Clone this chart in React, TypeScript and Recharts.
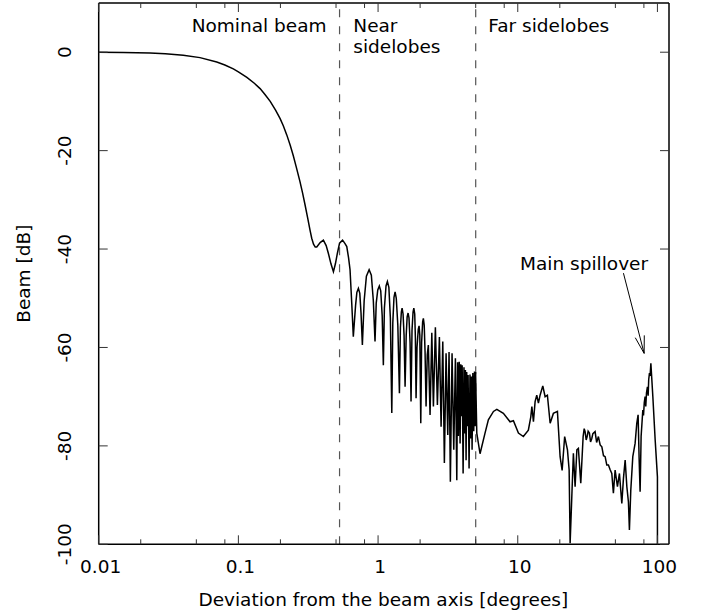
import React from 'react';
import { LineChart, Line, XAxis, YAxis, ReferenceLine } from 'recharts';

const FONT = "'DejaVu Sans', Verdana, sans-serif";
const FS = 18.5;

// Axis ticks
const xMajorTicks = [0.01, 0.1, 1, 10, 100];
const xTickLabels = ['0.01', '0.1', '1', '10', '100'];
const xMinorTicks = [0.02, 0.05, 0.08, 0.2, 0.5, 0.8, 2, 5, 8, 20, 50, 80];
const yTicks = [-100, -80, -60, -40, -20, 0];
const yTickLabels = ['-100', '-80', '-60', '-40', '-20', '0'];

// Region boundaries (degrees)
const regionBoundaries = [0.53, 5];

// Beam profile: [deviation in degrees, beam in dB]
const mainBeam: [number, number][] = [
  [0.01, 0], [0.015, -0.05], [0.0233, -0.15], [0.03, -0.3], [0.0403, -0.6], [0.0531, -1.1],
  [0.07, -2.0], [0.08, -2.6], [0.092, -3.4], [0.1, -4.0], [0.115, -5.1], [0.13, -6.3],
  [0.143, -7.4], [0.155, -8.6], [0.169, -10.0], [0.185, -11.8], [0.199, -13.5], [0.21, -15.0],
  [0.222, -16.8], [0.235, -18.9], [0.247, -21.0], [0.26, -23.4], [0.276, -26.3], [0.288, -28.6],
  [0.3, -31.0], [0.313, -33.6], [0.326, -36.2], [0.335, -37.8], [0.345, -39.0], [0.355, -39.6],
  [0.364, -39.6], [0.385, -38.7], [0.406, -38.2], [0.425, -39.3], [0.441, -40.9], [0.46, -43.0],
  [0.479, -44.6], [0.495, -43.0], [0.511, -40.9], [0.53, -38.8], [0.557, -38.2], [0.58, -38.9],
  [0.597, -39.5], [0.615, -41.8], [0.63, -44.2], [0.648, -51.0], [0.665, -57.8],
];

const nearSidelobes: [number, number][] = [
  [0.69, -51.5], [0.705, -48.8], [0.723, -48.0], [0.74, -49.0], [0.755, -53.0], [0.772, -59.5],
  [0.795, -50.5], [0.825, -45.5], [0.863, -44.2], [0.895, -45.3], [0.925, -50.5], [0.951, -58.8],
  [0.97, -51.0], [0.995, -48.3], [1.021, -47.5], [1.045, -48.5], [1.07, -53.5], [1.091, -63.6],
  [1.11, -52.0], [1.14, -47.5], [1.166, -46.6], [1.195, -47.8], [1.225, -54.0], [1.254, -73.3],
  [1.275, -55.0], [1.3, -49.8], [1.324, -48.7], [1.35, -50.0], [1.385, -55.5], [1.422, -69.3],
  [1.445, -56.0], [1.468, -52.8], [1.486, -52.0], [1.51, -53.2], [1.535, -57.5], [1.561, -68.0],
  [1.59, -57.5], [1.615, -53.8], [1.64, -53.0], [1.665, -54.0], [1.695, -59.0], [1.722, -71.0],
  [1.75, -56.5], [1.78, -52.8], [1.803, -52.0], [1.83, -53.2], [1.85, -58.0], [1.871, -70.3],
  [1.9, -60.0], [1.94, -56.3], [1.966, -55.6], [1.99, -57.5], [2.022, -75.4],
  [2.05, -59.0], [2.085, -54.8], [2.11, -54.1], [2.14, -55.5], [2.17, -61.0], [2.206, -72.0],
  [2.25, -61.5], [2.291, -59.5], [2.356, -73.7], [2.425, -57.0], [2.49, -72.0],
  [2.572, -55.9], [2.659, -71.7], [2.748, -57.9], [2.826, -76.1], [2.906, -58.8],
  [2.983, -83.5], [3.068, -61.2], [3.155, -77.8], [3.222, -60.9], [3.293, -87.3],
  [3.386, -61.2], [3.483, -80.8], [3.578, -62.2], [3.661, -87.0], [3.71, -63.0],
  [3.757, -78.0], [3.81, -62.9], [3.866, -79.5], [3.91, -63.4], [3.951, -74.0], [4.0, -63.6],
  [4.063, -85.6], [4.12, -64.0], [4.178, -77.5], [4.22, -64.6], [4.267, -82.9], [4.31, -65.0],
  [4.358, -76.0], [4.41, -65.6], [4.483, -84.6], [4.55, -65.5], [4.613, -78.5], [4.66, -65.9],
  [4.711, -80.8], [4.77, -65.2], [4.842, -77.0], [4.9, -64.9], [4.95, -76.0], [4.99, -65.0],
];

const farSidelobes: [number, number][] = [
  [5.09, -77.4], [5.37, -81.6], [5.83, -77.4], [6.16, -74.7], [6.7, -73.0], [7.08, -72.6],
  [7.89, -73.4], [8.81, -75.1], [9.31, -74.9], [10.11, -77.4], [10.97, -78.1], [11.91, -76.8],
  [12.4, -74.1], [12.62, -72.0], [12.95, -75.1], [13.31, -71.0], [13.68, -69.7], [14.06, -71.3],
  [14.45, -69.7], [15.11, -67.8], [15.7, -70.0], [16.3, -69.7], [17.06, -75.4], [17.99, -73.4],
  [19.23, -73.0], [20.1, -82.2], [20.78, -85.0], [21.67, -78.1], [22.69, -80.8], [23.33, -84.9],
  [23.71, -99.8], [24.38, -90.3], [25.02, -81.5], [25.74, -88.3], [26.49, -80.8], [27.17, -80.5],
  [28.26, -87.6], [29.38, -78.1], [29.9, -76.5], [30.35, -77.1], [30.9, -78.8], [31.39, -78.1],
  [31.9, -77.0], [32.59, -77.4], [33.2, -79.2], [33.89, -78.5], [34.5, -77.5], [35.78, -77.1],
  [36.7, -79.3], [37.79, -78.1], [38.9, -79.8], [39.99, -80.2], [41.1, -82.0], [42.23, -82.2],
  [43.4, -83.9], [44.59, -83.9], [45.8, -84.8], [47.13, -85.6], [48.38, -89.6], [49.78, -84.9],
  [51.72, -88.3], [53.45, -85.6], [55.59, -91.7], [57.11, -86.6], [58.74, -82.9], [60.4, -88.3],
  [61.99, -91.4], [63.01, -97.1], [64.45, -89.0], [66.62, -82.2], [69.2, -79.5],
];

const spillover: [number, number][] = [
  [71.15, -75.4], [72.71, -73.7], [73.88, -82.2], [75.16, -89.3], [76.41, -78.1], [78.59, -72.7],
  [79.5, -73.8], [80.5, -71.2], [81.61, -70.0], [82.5, -72.0], [83.5, -69.2], [84.79, -68.0],
  [85.8, -69.8], [86.6, -66.5], [87.67, -65.2], [88.6, -65.8], [89.73, -63.2], [92.72, -70.0],
  [96.34, -78.8], [100, -86.3], [100, -100],
];

const data = [...mainBeam, ...nearSidelobes, ...farSidelobes, ...spillover].map(([x, y]) => ({ x, y }));
const allXTicks = [...xMajorTicks, ...xMinorTicks].sort((a, b) => a - b);

const TICK_COLOR = '#333';

const BottomTick = (props: any) => {
  const { x, y, payload } = props;
  const idx = xMajorTicks.indexOf(payload.value);
  const major = idx >= 0;
  return (
    <g>
      <line x1={x} x2={x} y1={y} y2={y - (major ? 9 : 5)} stroke={TICK_COLOR} strokeWidth={1} />
      {major && (
        <text x={x + 2} y={y + 28.7} textAnchor="middle" fontFamily={FONT} fontSize={FS} fill="#000">
          {xTickLabels[idx]}
        </text>
      )}
    </g>
  );
};

const TopTick = (props: any) => {
  const { x, y, payload } = props;
  const major = xMajorTicks.indexOf(payload.value) >= 0;
  return <line x1={x} x2={x} y1={y} y2={y + (major ? 9 : 5)} stroke={TICK_COLOR} strokeWidth={1} />;
};

const LeftTick = (props: any) => {
  const { x, y, payload } = props;
  const idx = yTicks.indexOf(payload.value);
  const lx = x - 27.7;
  return (
    <g>
      <line x1={x} x2={x + 9} y1={y} y2={y} stroke={TICK_COLOR} strokeWidth={1} />
      <text
        x={lx}
        y={y}
        transform={`rotate(-90, ${lx}, ${y})`}
        textAnchor="middle"
        fontFamily={FONT}
        fontSize={FS}
        fill="#000"
      >
        {yTickLabels[idx]}
      </text>
    </g>
  );
};

const RightTick = (props: any) => {
  const { x, y } = props;
  return <line x1={x} x2={x - 9} y1={y} y2={y} stroke={TICK_COLOR} strokeWidth={1} />;
};

const Arrow = (props: any) => {
  const { x1, y1, x2, y2 } = props;
  const dx = x2 - x1;
  const dy = y2 - y1;
  const len = Math.hypot(dx, dy) || 1;
  const bx = -dx / len;
  const by = -dy / len;
  const hl = 18;
  const a = (15 * Math.PI) / 180;
  const c = Math.cos(a);
  const s = Math.sin(a);
  const w1x = x2 + hl * (bx * c - by * s);
  const w1y = y2 + hl * (bx * s + by * c);
  const w2x = x2 + hl * (bx * c + by * s);
  const w2y = y2 + hl * (-bx * s + by * c);
  return (
    <g>
      <line x1={x1} y1={y1} x2={x2} y2={y2} stroke="#000" strokeWidth={1} />
      <polyline points={`${w1x},${w1y} ${x2},${y2} ${w2x},${w2y}`} fill="none" stroke="#000" strokeWidth={1} />
    </g>
  );
};

const textStyle = { fontFamily: FONT, fontSize: FS, fill: '#000' } as const;

export default function App() {
  return (
    <div style={{ position: 'absolute', left: 0, top: 0, width: 701, height: 612, background: '#fff' }}>
      <LineChart
        width={701}
        height={612}
        data={data}
        margin={{ top: 0, right: 0, bottom: 37.7, left: 38.7 }}
      >
        <XAxis
          xAxisId="b"
          dataKey="x"
          type="number"
          scale="log"
          domain={[0.01, 121]}
          allowDataOverflow
          ticks={allXTicks}
          interval={0}
          height={30}
          tickSize={0}
          tickMargin={0}
          tickLine={false}
          tick={<BottomTick />}
          axisLine={{ stroke: '#000', strokeWidth: 1.5 }}
        />
        <XAxis
          xAxisId="t"
          orientation="top"
          dataKey="x"
          type="number"
          scale="log"
          domain={[0.01, 121]}
          allowDataOverflow
          ticks={allXTicks}
          interval={0}
          height={3}
          tickSize={0}
          tickMargin={0}
          tickLine={false}
          tick={<TopTick />}
          axisLine={{ stroke: '#000', strokeWidth: 1.5 }}
        />
        <YAxis
          yAxisId="l"
          type="number"
          domain={[-100, 10]}
          allowDataOverflow
          ticks={yTicks}
          interval={0}
          width={60}
          tickSize={0}
          tickMargin={0}
          tickLine={false}
          tick={<LeftTick />}
          axisLine={{ stroke: '#000', strokeWidth: 1.5 }}
        />
        <YAxis
          yAxisId="r"
          orientation="right"
          type="number"
          domain={[-100, 10]}
          allowDataOverflow
          ticks={yTicks}
          interval={0}
          width={32}
          tickSize={0}
          tickMargin={0}
          tickLine={false}
          tick={<RightTick />}
          axisLine={{ stroke: '#000', strokeWidth: 1.5 }}
        />
        {regionBoundaries.map((b) => (
          <ReferenceLine
            key={b}
            x={b}
            xAxisId="b"
            yAxisId="l"
            stroke="#555"
            strokeWidth={1.2}
            strokeDasharray="8 9"
          />
        ))}
        <ReferenceLine
          xAxisId="b"
          yAxisId="l"
          segment={[{ x: 57.1, y: -44.9 }, { x: 80.3, y: -61.2 }]}
          shape={Arrow}
          ifOverflow="visible"
        />
        <Line
          xAxisId="b"
          yAxisId="l"
          type="linear"
          dataKey="y"
          stroke="#000"
          strokeWidth={1.5}
          dot={false}
          isAnimationActive={false}
        />
      </LineChart>
      <svg
        width={701}
        height={612}
        style={{ position: 'absolute', left: 0, top: 0, pointerEvents: 'none' }}
      >
        <text x={191.7} y={32.3} {...textStyle}>Nominal beam</text>
        <text x={353.3} y={32.3} {...textStyle}>Near</text>
        <text x={353.3} y={53.3} {...textStyle}>sidelobes</text>
        <text x={488.3} y={32.3} {...textStyle}>Far sidelobes</text>
        <text x={520} y={270} {...textStyle}>Main spillover</text>
        <text x={383.3} y={606} textAnchor="middle" {...textStyle}>Deviation from the beam axis [degrees]</text>
        <text x={30} y={273.7} textAnchor="middle" transform="rotate(-90, 30, 273.7)" {...textStyle}>Beam [dB]</text>
      </svg>
    </div>
  );
}
